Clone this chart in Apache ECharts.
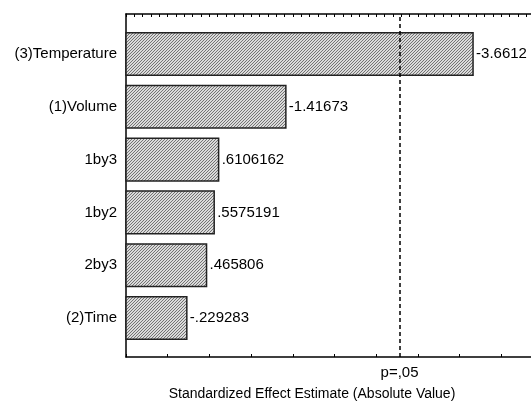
<!DOCTYPE html>
<html>
<head>
<meta charset="utf-8">
<script src="https://cdn.jsdelivr.net/npm/echarts@6/dist/echarts.min.js"></script>
<style>
html,body{margin:0;padding:0;background:#fff;}
#chart{width:531px;height:404px;}
</style>
</head>
<body>
<div id="chart"></div>
<script>
// ---- data ----
const categories = ['(3)Temperature', '(1)Volume', '1by3', '1by2', '2by3', '(2)Time'];
const effects = [-3.6612, -1.41673, 0.6106162, 0.5575191, 0.465806, -0.229283];
const criticalT = 2.776;          // p = .05 reference line
const criticalLabel = 'p=,05';
const xTitle = 'Standardized Effect Estimate (Absolute Value)';

const X_MIN = -0.5, X_MAX = 4.356;
const FONT = '"Liberation Sans", Arial, sans-serif';

function fmt(v) {
  return String(v).replace(/^(-?)0\./, '$1.');
}

// hatch pattern
const tile = document.createElement('canvas');
tile.width = 3; tile.height = 3;
(function () {
  const ctx = tile.getContext('2d');
  const img = ctx.createImageData(3, 3);
  for (let y = 0; y < 3; y++) for (let x = 0; x < 3; x++) {
    const i = (y * 3 + x) * 4;
    const dark = ((x + y) % 3) === 0;
    const c = dark ? 115 : 218;
    img.data[i] = c; img.data[i + 1] = c; img.data[i + 2] = c; img.data[i + 3] = 255;
  }
  ctx.putImageData(img, 0, 0);
})();
const hatch = { image: tile, repeat: 'repeat' };

const chart = echarts.init(document.getElementById('chart'), null, { renderer: 'canvas' });

const barData = effects.map((e, i) => [Math.abs(e), i, e]);

const option = {
  animation: false,
  backgroundColor: '#fff',
  grid: [
    { left: 126, top: 14, right: 0, height: 343, containLabel: false },
    { left: 126, top: 27.6, right: 0, height: 316.8, containLabel: false }
  ],
  xAxis: [
    {
      gridIndex: 0, type: 'value', position: 'bottom', min: X_MIN, max: X_MAX, interval: 0.5,
      axisLine: { show: true, onZero: false, lineStyle: { color: '#000', width: 1.5 } },
      axisTick: { show: true, inside: true, length: 3, lineStyle: { color: '#000', width: 1 } },
      axisLabel: { show: false }, splitLine: { show: false }
    },
    {
      gridIndex: 0, type: 'value', position: 'top', min: X_MIN, max: X_MAX, interval: 0.1,
      axisLine: { show: true, onZero: false, lineStyle: { color: '#000', width: 1.5 } },
      axisTick: { show: true, inside: true, length: 3, lineStyle: { color: '#000', width: 1 } },
      axisLabel: { show: false }, splitLine: { show: false }
    },
    {
      gridIndex: 1, type: 'value', min: X_MIN, max: X_MAX, show: false,
      splitLine: { show: false }
    }
  ],
  yAxis: [
    {
      gridIndex: 0, type: 'value', min: 0, max: 1, position: 'left',
      axisLine: { show: true, onZero: false, lineStyle: { color: '#000', width: 1.5 } },
      axisTick: { show: false }, axisLabel: { show: false }, splitLine: { show: false }
    },
    {
      gridIndex: 1, type: 'category', inverse: true, data: categories,
      axisLine: { show: false }, axisTick: { show: false }, splitLine: { show: false },
      axisLabel: { color: '#000', fontSize: 15, fontFamily: FONT, margin: 9 }
    }
  ],
  graphic: [
    {
      type: 'text', x: 312, y: 394,
      style: { text: xTitle, fill: '#000', font: '14px ' + FONT, align: 'center', verticalAlign: 'middle' }
    }
  ],
  series: [
    {
      type: 'line', xAxisIndex: 0, yAxisIndex: 0, data: [], silent: true,
      markLine: {
        silent: true, symbol: 'none', animation: false,
        lineStyle: { color: '#000', width: 1.5, type: [4, 3] },
        label: { show: true, position: 'start', formatter: criticalLabel, color: '#000', fontSize: 15, fontFamily: FONT, distance: 8 },
        data: [{ xAxis: criticalT }]
      }
    },
    {
      type: 'custom', xAxisIndex: 2, yAxisIndex: 1, data: barData,
      encode: { x: 0, y: 1 },
      renderItem: function (params, api) {
        const v = api.value(0);
        const idx = api.value(1);
        const raw = api.value(2);
        const start = api.coord([X_MIN, idx]);
        const end = api.coord([v, idx]);
        const band = api.size([0, 1])[1];
        const h = band * 0.807;
        return {
          type: 'group',
          children: [
            {
              type: 'rect',
              shape: { x: start[0], y: start[1] - h / 2, width: end[0] - start[0], height: h },
              style: { fill: hatch, stroke: '#222', lineWidth: 1.5 }
            },
            {
              type: 'text',
              style: {
                text: fmt(raw), x: end[0] + 3, y: end[1],
                align: 'left', verticalAlign: 'middle', fill: '#000',
                font: '15px ' + FONT
              }
            }
          ]
        };
      }
    }
  ]
};
chart.setOption(option);
</script>
</body>
</html>
